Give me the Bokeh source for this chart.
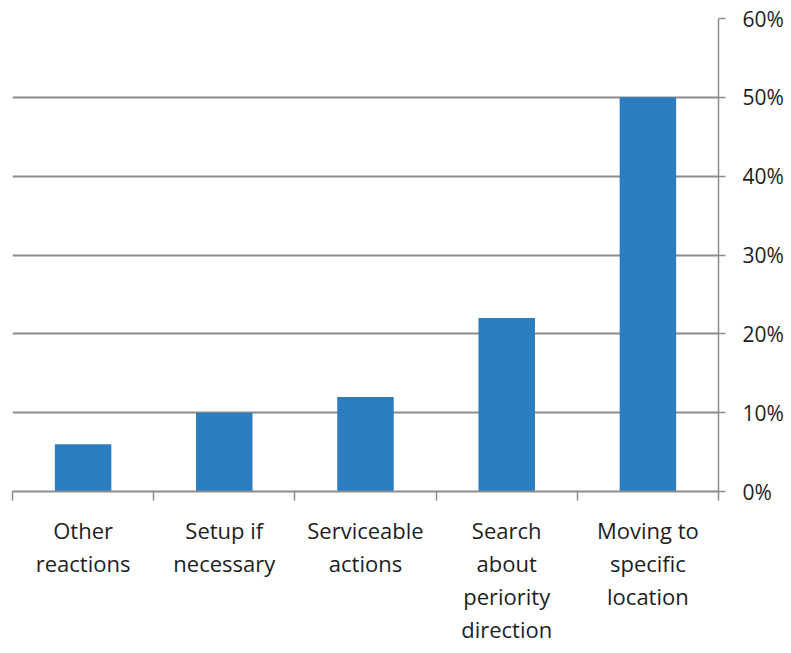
import numpy as np
from bokeh.plotting import figure
from bokeh.models import FixedTicker, NumeralTickFormatter, Range1d
from bokeh.embed import file_html
from bokeh.resources import INLINE

categories = ["Other\nreactions", "Setup if\nnecessary", "Serviceable\nactions",
              "Search\nabout\nperiority\ndirection", "Moving to\nspecific\nlocation"]
values = [0.06, 0.10, 0.12, 0.22, 0.50]
y_ticks = [0.0, 0.1, 0.2, 0.3, 0.4, 0.5, 0.6]

n = len(categories)
centers = [i + 0.5 for i in range(n)]
bounds = [float(i) for i in range(n + 1)]

FONT = "Open Sans"
TXT = "#1e1e1e"
GRID = "#8c8c8c"

p = figure(width=791, height=653, output_backend="svg", toolbar_location=None,
           x_range=Range1d(0, n), y_range=Range1d(0, 0.6),
           x_axis_location="below", y_axis_location="right",
           min_border_left=12, min_border_top=18, min_border_right=73,
           min_border_bottom=162)
p.outline_line_color = None
p.background_fill_color = "white"
p.border_fill_color = "white"

p.vbar(x=centers, top=values, width=0.4, bottom=0, color="#2b7dc0", line_color=None)

# x axis
xa = p.xaxis[0]
xa.ticker = FixedTicker(ticks=centers, minor_ticks=bounds)
xa.major_label_overrides = {c: lab for c, lab in zip(centers, categories)}
xa.major_tick_line_color = None
xa.major_tick_out = 0
xa.major_tick_in = 0
xa.minor_tick_out = 9
xa.minor_tick_in = 0
xa.minor_tick_line_color = GRID
xa.minor_tick_line_width = 1.5
xa.axis_line_color = GRID
xa.axis_line_width = 2
xa.major_label_text_font = FONT
xa.major_label_text_font_size = "22px"
xa.major_label_text_color = TXT
xa.major_label_text_line_height = 1.11
xa.major_label_standoff = 14
xa.major_label_text_align = "center"

# y axis (right)
ya = p.yaxis[0]
ya.ticker = FixedTicker(ticks=y_ticks)
ya.formatter = NumeralTickFormatter(format="0%")
ya.axis_line_color = GRID
ya.axis_line_width = 1.5
ya.major_tick_line_color = GRID
ya.major_tick_line_width = 1.5
ya.major_tick_out = 7
ya.major_tick_in = 0
ya.minor_tick_line_color = None
ya.major_label_text_font = FONT
ya.major_label_text_font_size = "21px"
ya.major_label_text_color = TXT
ya.major_label_standoff = 17

p.xgrid.grid_line_color = None
p.ygrid.ticker = FixedTicker(ticks=y_ticks)
p.ygrid.grid_line_color = GRID
p.ygrid.grid_line_width = 2

open("out.html", "w").write(file_html(p, INLINE))
